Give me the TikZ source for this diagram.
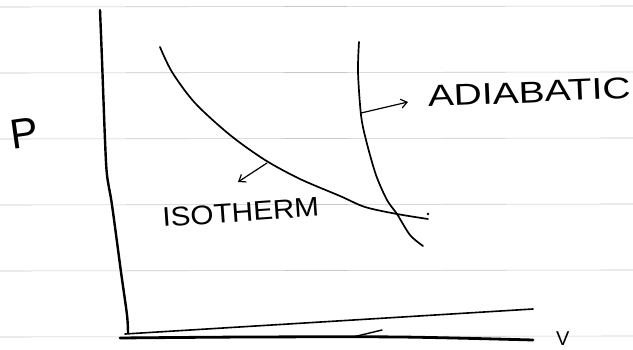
\documentclass[tikz,border=0pt]{standalone}
\usepackage{fontspec}
\setmainfont{Liberation Sans}
\usetikzlibrary{arrows.meta}
\begin{document}
\begin{tikzpicture}[x=1pt,y=-1pt,
  ruled/.style={draw=black!22,line width=0.6pt},
  curve/.style={draw=black,line width=1.7pt,line cap=round,line join=round},
  axis/.style={draw=black,line width=2.4pt,line cap=round,line join=round},
  pointer/.style={draw=black,line width=1.2pt,line cap=round,-{Straight Barb[length=6pt,width=9pt]}},
  hand/.style={inner sep=0pt,font=\fontsize{30}{30}\selectfont}]
\useasboundingbox (0,0) rectangle (633,350);
% ruled paper
\foreach \yy in {7,73,139,205,271,337} \draw[ruled] (0,\yy) -- (633,\yy-1);
% axes
\draw[axis] plot[smooth] coordinates {(100,10) (102,60) (105,140) (107,175) (112,205) (121,272) (127,315) (128,333)};
\draw[axis,line width=2.8pt] plot[smooth] coordinates {(120,338) (250,337) (400,337) (533,340)};
\draw[curve,line width=1.6pt] (125,334) -- (533,309);
\draw[curve,line width=1.4pt] (353,337) -- (382,330);
% isotherm
\draw[curve] plot[smooth] coordinates {(160,47) (172,72) (195,103) (230,135) (265,160) (300,179) (340,196) (365,207) (397,214) (428,219)};
\fill (428,214) circle (1.3pt);
% adiabatic
\draw[curve] plot[smooth] coordinates {(359,42) (358,72) (361,115) (366,140) (376,175) (387,200) (397,214) (410,235) (423,246)};
% pointers
\coordinate (aA) at (361,113);
\coordinate (aB) at (408,102);
\draw[pointer] (aA) -- (aB);
\coordinate (iA) at (267,163);
\coordinate (iB) at (238,182);
\draw[pointer] (iA) -- (iB);
% labels
\node[hand,anchor=base west,rotate=2.5,xscale=1.3] (adia) at (428,107) {ADIABATIC};
\node[hand,anchor=base west,rotate=4,xscale=1.1,font=\fontsize{27}{27}\selectfont] (iso) at (163,227) {ISOTHERM};
\node[hand,anchor=base west,rotate=8,font=\fontsize{42}{42}\selectfont] (p) at (12,150) {P};
\node[hand,anchor=base west,font=\fontsize{20}{20}\selectfont] (v) at (556,346) {V};
\end{tikzpicture}
\end{document}
